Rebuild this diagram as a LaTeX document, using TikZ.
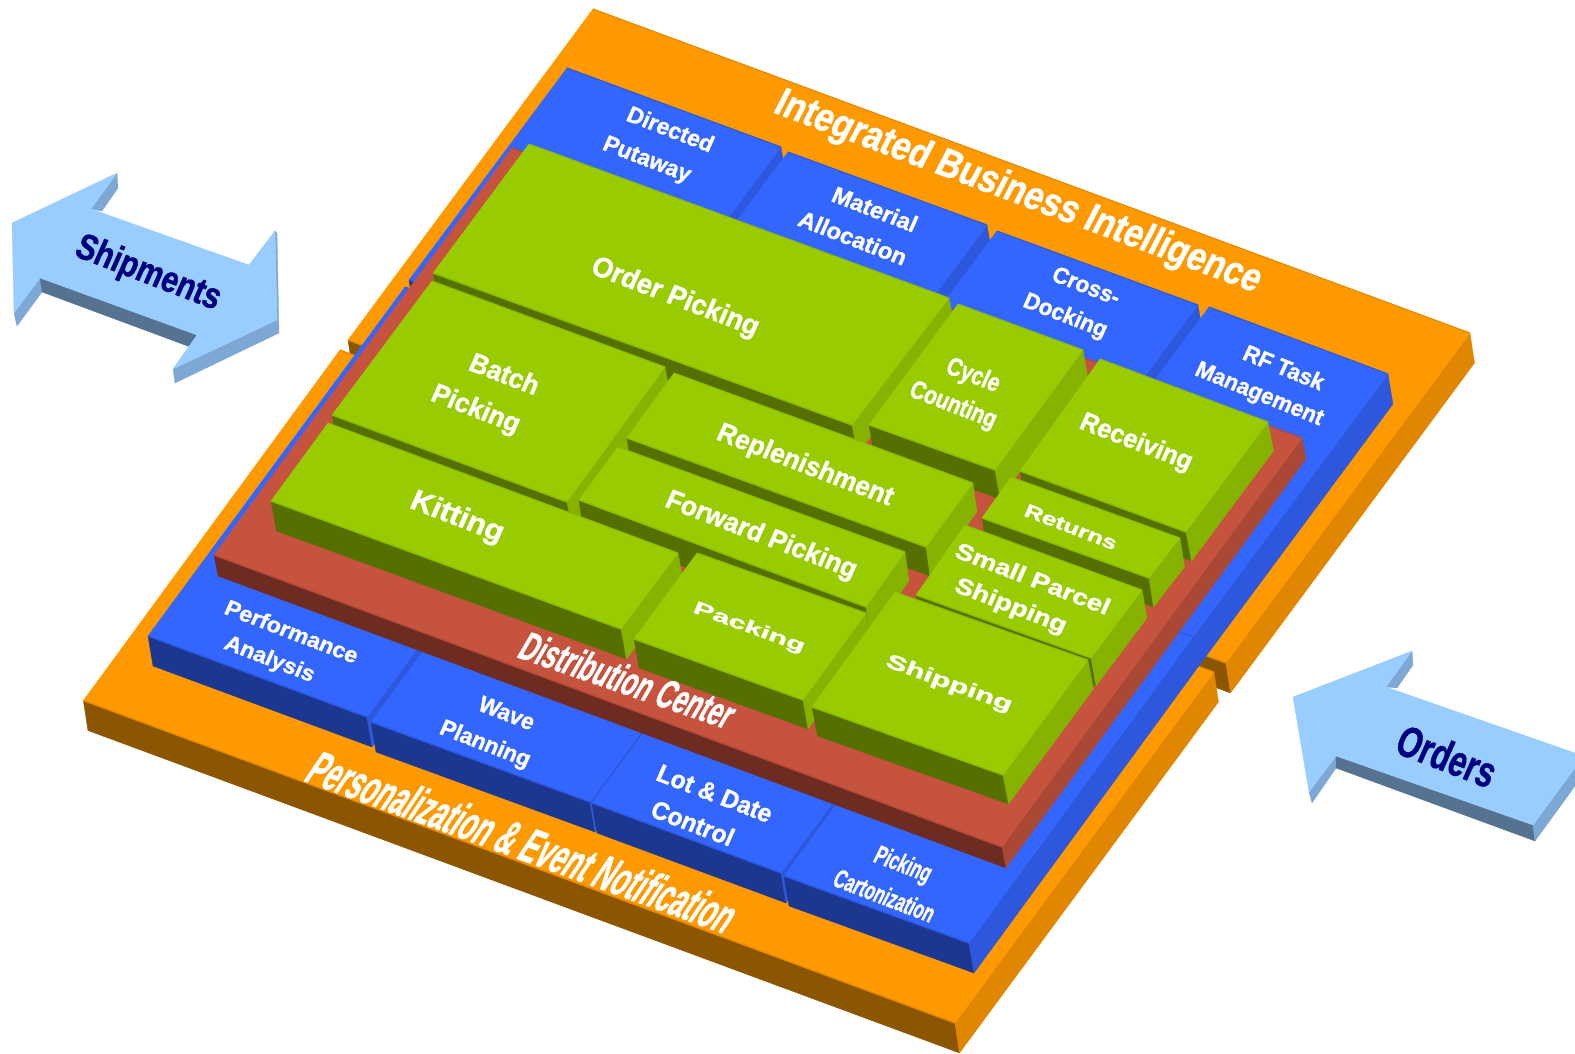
\documentclass[tikz,border=0pt]{standalone}
\usepackage{fontspec}
\setmainfont{Liberation Sans}[BoldFeatures={FakeBold=1.2}]
\definecolor{orgTop}{HTML}{FF9900}\definecolor{orgSide}{HTML}{E08600}\definecolor{orgFront}{HTML}{8C5500}\definecolor{orgEdge}{HTML}{E58A00}
\definecolor{bluTop}{HTML}{3366FF}\definecolor{bluSide}{HTML}{2D58DD}\definecolor{bluFront}{HTML}{1B378F}\definecolor{bluEdge}{HTML}{2D58E0}
\definecolor{redTop}{HTML}{C5533E}\definecolor{redSide}{HTML}{A94835}\definecolor{redFront}{HTML}{6E2B22}\definecolor{redEdge}{HTML}{B34A37}
\definecolor{grnTop}{HTML}{99CC00}\definecolor{grnSide}{HTML}{86B300}\definecolor{grnFront}{HTML}{557000}\definecolor{grnEdge}{HTML}{8ABB00}
\definecolor{arwTop}{HTML}{99CCFF}\definecolor{arwSide}{HTML}{7DA8D5}\definecolor{arwFront}{HTML}{557391}\definecolor{navyText}{HTML}{000080}
\newcommand\fs[2]{\fontsize{#1}{#2}\selectfont\bfseries}
% family, TL, TR, BR, BL, extrusion
\newcommand\slab[6]{%
  \filldraw[fill=#1Front,draw=#1Front,line width=.3pt] (#5) -- (#4) -- ([shift={(#6)}]#4) -- ([shift={(#6)}]#5) -- cycle;
  \filldraw[fill=#1Side,draw=#1Side,line width=.3pt] (#3) -- (#4) -- ([shift={(#6)}]#4) -- ([shift={(#6)}]#3) -- cycle;
  \filldraw[fill=#1Top,draw=#1Top,line width=.3pt] (#2) -- (#3) -- (#4) -- (#5) -- cycle;
  \draw[#1Edge,line width=1.4pt] (#5) -- (#4);
  \draw[#1Edge,line width=1.1pt] (#2) -- (#3);
}
\tikzset{
  lab/.style n args={4}{rotate=#1,xslant=#2,xscale=#3,yscale=#4,text=white,inner sep=0pt,align=center},
  arw/.style n args={4}{rotate=#1,xslant=#2,xscale=#3,yscale=#4,text=navyText,inner sep=0pt},
  face/.style={fill=#1,draw=#1,line width=.3pt},
}
\begin{document}
\begin{tikzpicture}[x=1pt,y=-1pt,line join=round]
\useasboundingbox (0,0) rectangle (1575,1053);
% orange plates
\slab{org}{593,9}{1470,333}{1226,663}{348,340}{4.5,30}
\slab{org}{340,350}{1214,672}{955,1023}{83.4,700.5}{4.5,30}
% blue blocks, back row
\slab{blu}{567,68}{781,147}{623,359}{409,280}{5,30}
\slab{blu}{788,152}{987,225}{829,437}{630,364}{5,30}
\slab{blu}{997,231}{1198,305}{1040,517}{839,443}{5,30}
\slab{blu}{1209,307}{1388,374}{1193,637}{1014,570}{5,30}
% blue blocks, front row
\slab{blu}{405,287}{624,368}{367,717}{148,636}{5,30}
\slab{blu}{628,373}{847,453}{590,802}{371,722}{5,30}
\slab{blu}{849,454}{1038,524}{781,873}{592,803}{5,30}
\slab{blu}{1008,570}{1193,637}{969,943}{784,876}{5,30}
% red plate
\slab{red}{512,148}{1302,438}{1002,847}{214,555}{4,21}
% green blocks
\slab{grn}{529,144}{949,298}{852,425}{433,273}{5.5,29}
\slab{grn}{958,304}{1083,350}{995,470}{869,425}{5,29}
\slab{grn}{1100,359}{1268,422}{1186,532}{1020,471}{5.5,29}
\slab{grn}{432,281}{665,367}{567,502}{332,415}{5.5,29}
\slab{grn}{674,373}{973,483}{926,547}{627,438}{4,29}
\slab{grn}{1011,477}{1180,538}{1149,578}{982,518}{4.5,29}
\slab{grn}{618,447}{905,552}{866,607}{579,500}{4,29}
\slab{grn}{965,525}{1142,590}{1091,658}{916,595}{5,28}
\slab{grn}{328,423}{678,553}{621,629}{271,501}{5.5,30}
\slab{grn}{697,553}{866,613}{803,700}{634,639}{5,29}
\slab{grn}{895,592}{1088,660}{1003,775}{812,707}{5.5,29}
% Shipments arrow
\filldraw[face=arwSide] (117,173) -- (118,188) -- (102,211) -- (91,209) -- cycle;
\filldraw[face=arwSide] (40,278) -- (42,292) -- (17,326) -- (14,313) -- cycle;
\filldraw[face=arwFront] (40,278) -- (42,292) -- (193,348) -- (197,335) -- cycle;
\filldraw[face=arwSide] (277,320) -- (279,333) -- (175,383) -- (173,369) -- cycle;
\filldraw[face=arwSide] (275,231) -- (277,233) -- (279,333) -- (277,320) -- cycle;
\filldraw[face=arwTop] (12,223) -- (117,173) -- (91,209) -- (249,265) -- (275,231) -- (277,320) -- (173,369) -- (197,335) -- (40,278) -- (14,313) -- cycle;
% Orders arrow
\filldraw[face=arwSide] (1412,651) -- (1413,665) -- (1397,688) -- (1386,687) -- cycle;
\filldraw[face=arwSide] (1336,756) -- (1336,768) -- (1312,803) -- (1309,792) -- cycle;
\filldraw[face=arwFront] (1336,756) -- (1336,768) -- (1535,841) -- (1533,825) -- cycle;
\filldraw[face=arwSide] (1533,825) -- (1535,841) -- (1575,786) -- (1575,768) -- cycle;
\filldraw[face=arwTop] (1293,697) -- (1412,651) -- (1386,687) -- (1575,753) -- (1575,768) -- (1533,825) -- (1336,756) -- (1309,792) -- cycle;
% labels
\node[lab={-20.5}{.12}{.96}{1.15},font=\fs{35}{40}] (ibi) at (1018,193) {Integrated Business Intelligence};
\node[lab={-20}{.25}{.58}{1.1},font=\fs{45}{50}] (pen) at (523,842) {Personalization \& Event Notification};
\node[lab={-19}{.2}{.645}{1.08},font=\fs{38}{44}] (dc) at (628,680) {Distribution Center};
\node[lab={-21}{.05}{1.03}{1.05},font=\fs{22}{34}] (dp) at (654,144) {\hspace*{18pt}Directed\\Putaway};
\node[lab={-21}{.05}{1.07}{1.05},font=\fs{22}{33}] (ma) at (860,222) {\hspace*{16pt}Material\\Allocation};
\node[lab={-21}{.05}{1.01}{1.05},font=\fs{22}{33}] (cd) at (1072,301) {\hspace*{14pt}Cross-\\Docking};
\node[lab={-22}{.05}{1.01}{1.05},font=\fs{22}{31}] (rf) at (1266,380) {\hspace*{22pt}RF Task\\Management};
\node[lab={-21}{.05}{1}{1.05},font=\fs{27}{30}] (op) at (675,298) {Order Picking};
\node[lab={-21}{.05}{1}{1.05},font=\fs{26}{40}] (bp) at (484,391) {\hspace*{24pt}Batch\\Picking};
\node[lab={-21}{.05}{.9}{1.12},font=\fs{23}{31}] (cc) at (960,390) {\hspace*{14pt}Cycle\\Counting};
\node[lab={-21}{.05}{1}{1.05},font=\fs{25}{30}] (rc) at (1136,443) {Receiving};
\node[lab={-21}{.05}{1}{1.05},font=\fs{26}{30}] (rp) at (805,466) {Replenishment};
\node[lab={-21}{.05}{1.03}{.75},font=\fs{25}{30}] (rt) at (1071,527) {Returns};
\node[lab={-21}{.05}{1.02}{.85},font=\fs{27}{38}] (sp) at (1017,592) {\hspace*{18pt}Small Parcel\\Shipping};
\node[lab={-21}{.05}{1}{1.05},font=\fs{26}{30}] (fp) at (761,536) {Forward Picking};
\node[lab={-21}{.05}{1.1}{1.05},font=\fs{28}{30}] (ki) at (457,518) {Kitting};
\node[lab={-20}{.05}{1.02}{.6},font=\fs{30}{30}] (pa) at (749,628) {Packing};
\node[lab={-20}{.05}{1}{.65},font=\fs{31}{30}] (sh) at (949,684) {Shipping};
\node[lab={-21}{.05}{1}{.96},font=\fs{23}{34}] (pf) at (276,645) {\hspace*{18pt}Performance\\Analysis};
\node[lab={-21}{.05}{1.02}{1.05},font=\fs{22}{34}] (wp) at (492,729) {\hspace*{14pt}Wave\\Planning};
\node[lab={-21}{.05}{1.01}{1.05},font=\fs{24}{34}] (ld) at (700,807) {\hspace*{16pt}Lot \& Date\\Control};
\node[lab={-21}{.1}{.66}{1.05},font=\fs{25}{35}] (pc) at (893,879) {\hspace*{8pt}Picking\\Cartonization};
\node[arw={-21}{.05}{.93}{1.15},font=\fs{32}{36}] (shp) at (148,274) {Shipments};
\node[arw={-21}{.05}{.82}{1.15},font=\fs{38}{40}] (ord) at (1447,756) {Orders};
\end{tikzpicture}
\end{document}
